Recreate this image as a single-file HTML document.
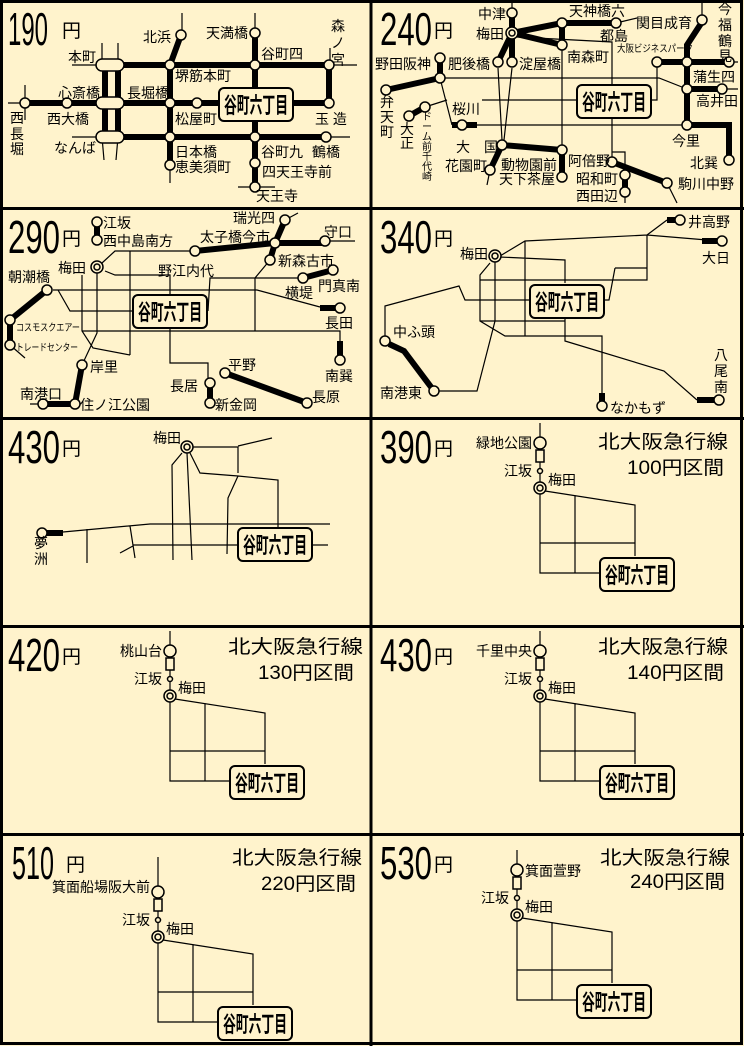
<!DOCTYPE html>
<html><head><meta charset="utf-8"><style>
html,body{margin:0;padding:0;background:#fff}
svg{display:block}
text{font-family:"Liberation Sans","Noto Sans CJK JP",sans-serif;fill:#000}
.n{font-size:46px;font-family:"Liberation Sans","DejaVu Sans",sans-serif}
.y{font-size:19px}
.l{font-size:14px}
.s{font-size:10px}
.t{stroke:#000;stroke-width:1.2;fill:none}
.k{stroke:#000;stroke-width:6;fill:none}
.c{fill:#FFF3CC;stroke:#000;stroke-width:1.5}
.b{fill:#FFF3CC;stroke:#000;stroke-width:2}
.bt{font-size:22px;font-weight:bold}
.h{font-size:19px}
</style></head><body>
<svg width="744" height="1046" viewBox="0 0 744 1046" xmlns="http://www.w3.org/2000/svg">
<defs>
<g id="box"><rect x="0" y="0" width="74" height="33" rx="5" class="b"/><text x="5" y="25" class="bt" textLength="64" lengthAdjust="spacingAndGlyphs">谷町六丁目</text></g>
<g id="um"><circle r="6" class="c"/><circle r="3" class="c"/></g>
</defs>
<rect x="0" y="0" width="744" height="1046" fill="#FFF3CC"/>

<!-- Panel 1: 190 -->
<g>
<text x="8" y="45" class="n" textLength="40" lengthAdjust="spacingAndGlyphs">190</text>
<text x="62" y="37" class="y">円</text>
<path class="t" d="M72 65H357 M8 103H25 M72 137H350 M102 43V65 M118 43V65 M102 137L104 160 M118 137L116 160 M182 13V35 M255 13V33 M25 85V120 M330 48V65 M170 165V183 M238 187H275 M330 137H350"/>
<path class="k" d="M100 65H330 M25 103H330 M100 137H326 M105 62V140 M118 62V140 M170 65V165 M170 65L181 35 M255 33V187 M329 65V103"/>
<rect x="96" y="59" width="28" height="12" rx="6" class="c"/>
<rect x="96" y="97" width="28" height="12" rx="6" class="c"/>
<rect x="96" y="131" width="28" height="12" rx="6" class="c"/>
<g class="c"><circle cx="181" cy="35" r="5"/><circle cx="255" cy="33" r="5"/><circle cx="170" cy="65" r="5"/><circle cx="255" cy="65" r="5"/><circle cx="329" cy="65" r="5"/><circle cx="25" cy="103" r="5"/><circle cx="67" cy="103" r="5"/><circle cx="170" cy="103" r="5"/><circle cx="197" cy="103" r="5"/><circle cx="329" cy="103" r="5"/><circle cx="170" cy="137" r="5"/><circle cx="255" cy="137" r="5"/><circle cx="326" cy="137" r="5"/><circle cx="170" cy="165" r="5"/><circle cx="255" cy="163" r="5"/><circle cx="255" cy="187" r="5"/></g>
<use href="#box" x="219" y="88"/>
<g class="l">
<text x="143" y="42">北浜</text><text x="206" y="38">天満橋</text><text x="261" y="59">谷町四</text>
<text x="331" y="31">森</text><text x="331" y="48">ノ</text><text x="331" y="65">宮</text>
<text x="68" y="62">本町</text><text x="175" y="81">堺筋本町</text><text x="58" y="98">心斎橋</text><text x="127" y="98">長堀橋</text>
<text x="47" y="124">西大橋</text><text x="175" y="124">松屋町</text><text x="315" y="124">玉 造</text>
<text x="10" y="123">西</text><text x="10" y="139">長</text><text x="10" y="154">堀</text>
<text x="54" y="153">なんば</text><text x="175" y="157">日本橋</text><text x="261" y="157">谷町九</text><text x="312" y="157">鶴橋</text>
<text x="175" y="172">恵美須町</text><text x="262" y="177">四天王寺前</text><text x="256" y="201">天王寺</text>
</g>
</g>

<!-- Panel 2: 240 -->
<g transform="translate(372,0)">
<text x="8" y="45" class="n" textLength="52" lengthAdjust="spacingAndGlyphs">240</text>
<text x="62" y="37" class="y">円</text>
<path class="t" d="M140 0V13 M330 0V20 M68 78H287L315 89 M285 62V100H278 M110 100H205 M68 78L80 125 M105 125H315 M53 107L75 100 M126 68L130 140 M140 68L132 140 M190 45V148 M145 37L240 42V160 M240 152H253V170 M244 23L265 18 M295 183L305 203 M253 192V203 M118 170L115 185 M357 62H366 M350 89H366"/>
<path class="k" d="M140 13V33 M140 33L190 23H244 M140 33L190 45 M190 23V45 M140 33L126 62 M140 33V62 M68 58V78L14 90 M37 116L53 107 M80 125H105 M330 22L315 45V125 M285 62H357 M315 89H350 M315 125H357V158 M130 145L190 150 M130 145L118 170 M190 150V177 M240 162L295 183 M253 175V192"/>
<g class="c"><circle cx="140" cy="13" r="5"/><circle cx="190" cy="23" r="5"/><circle cx="244" cy="23" r="5"/><circle cx="330" cy="20" r="5"/><circle cx="190" cy="45" r="5"/><circle cx="126" cy="62" r="5"/><circle cx="140" cy="62" r="5"/><circle cx="68" cy="58" r="5"/><circle cx="68" cy="78" r="5"/><circle cx="14" cy="90" r="5"/><circle cx="37" cy="116" r="5"/><circle cx="53" cy="107" r="5"/><circle cx="90" cy="125" r="5"/><circle cx="285" cy="62" r="5"/><circle cx="315" cy="62" r="5"/><circle cx="357" cy="62" r="5"/><circle cx="315" cy="89" r="5"/><circle cx="350" cy="89" r="5"/><circle cx="315" cy="125" r="5"/><circle cx="357" cy="160" r="5"/><circle cx="130" cy="145" r="5"/><circle cx="190" cy="150" r="5"/><circle cx="118" cy="170" r="5"/><circle cx="190" cy="177" r="5"/><circle cx="240" cy="162" r="5"/><circle cx="295" cy="183" r="5"/><circle cx="253" cy="175" r="5"/><circle cx="253" cy="192" r="5"/></g>
<use href="#um" x="140" y="33"/>
<use href="#box" x="205" y="85"/>
<g class="l">
<text x="106" y="19">中津</text><text x="104" y="39">梅田</text><text x="197" y="16">天神橋六</text><text x="264" y="28">関目成育</text><text x="228" y="41">都島</text>
<text x="3" y="69">野田阪神</text><text x="76" y="69">肥後橋</text><text x="147" y="69">淀屋橋</text><text x="195" y="62">南森町</text>
<text x="346" y="14">今</text><text x="346" y="30">福</text><text x="346" y="46">鶴</text><text x="346" y="61">見</text>
<text x="321" y="82">蒲生四</text><text x="324" y="106">高井田</text>
<text x="8" y="107">弁</text><text x="8" y="122">天</text><text x="8" y="137">町</text>
<text x="28" y="134">大</text><text x="28" y="148">正</text>
<text x="80" y="114">桜川</text><text x="84" y="152">大</text><text x="112" y="152">国</text>
<text x="73" y="171">花園町</text><text x="129" y="170">動物園前</text><text x="196" y="166">阿倍野</text><text x="127" y="184">天下茶屋</text>
<text x="204" y="184">昭和町</text><text x="204" y="201">西田辺</text><text x="300" y="146">今里</text><text x="318" y="168">北巽</text><text x="306" y="189">駒川中野</text>
</g>
<text x="245" y="52" class="s" textLength="76" lengthAdjust="spacingAndGlyphs">大阪ビジネスパーク</text>
<g class="s"><text x="50" y="120">ド</text><text x="50" y="130">ー</text><text x="50" y="140">ム</text><text x="50" y="150">前</text><text x="50" y="160">千</text><text x="50" y="170">代</text><text x="50" y="180">崎</text></g>
</g>

<!-- Panel 3: 290 -->
<g transform="translate(0,208)">
<text x="8" y="45" class="n" textLength="52" lengthAdjust="spacingAndGlyphs">290</text>
<text x="62" y="37" class="y">円</text>
<path class="t" d="M97 65V125L82 157 M82 67V123L93 140L130 147 M102 55L115 43H195 M130 43V147 M105 63L115 67H170V88 M53 82H257L320 99 M58 82L70 103H133 M82 123H340V133 M270 52L255 70V123 M208 103L210 70H303 M170 118V155H208V170 M325 33H355 M10 137L25 150 M43 196H30 M285 12L298 5"/>
<path class="k" d="M97 14V32 M195 43L275 35 M275 35H325 M285 12L275 35L270 52 M303 70L333 62 M320 100H340 M340 133V152 M225 165L307 195 M210 175V195 M47 82L10 112V137 M82 157L75 196H43"/>
<g class="c"><circle cx="97" cy="14" r="5"/><circle cx="97" cy="32" r="5"/><circle cx="285" cy="12" r="5"/><circle cx="275" cy="35" r="5"/><circle cx="325" cy="33" r="5"/><circle cx="195" cy="43" r="5"/><circle cx="270" cy="52" r="5"/><circle cx="303" cy="70" r="5"/><circle cx="333" cy="62" r="5"/><circle cx="340" cy="100" r="5"/><circle cx="340" cy="152" r="5"/><circle cx="225" cy="165" r="5"/><circle cx="307" cy="195" r="5"/><circle cx="210" cy="175" r="5"/><circle cx="210" cy="195" r="5"/><circle cx="47" cy="82" r="5"/><circle cx="10" cy="112" r="5"/><circle cx="10" cy="137" r="5"/><circle cx="82" cy="157" r="5"/><circle cx="75" cy="196" r="5"/><circle cx="43" cy="196" r="5"/></g>
<use href="#um" x="97" y="59"/>
<use href="#box" x="133" y="87"/>
<g class="l">
<text x="103" y="20">江坂</text><text x="103" y="38">西中島南方</text><text x="58" y="65">梅田</text><text x="8" y="74">朝潮橋</text><text x="158" y="68">野江内代</text>
<text x="233" y="15">瑞光四</text><text x="200" y="34">太子橋今市</text><text x="324" y="29">守口</text><text x="278" y="58">新森古市</text>
<text x="285" y="90">横堤</text><text x="318" y="83">門真南</text><text x="325" y="120">長田</text><text x="325" y="173">南巽</text>
<text x="90" y="164">岸里</text><text x="228" y="162">平野</text><text x="170" y="183">長居</text><text x="312" y="194">長原</text>
<text x="20" y="191">南港口</text><text x="80" y="202">住ノ江公園</text><text x="215" y="202">新金岡</text>
</g>
<text x="16" y="123" class="s" textLength="64" lengthAdjust="spacingAndGlyphs">コスモスクエアー</text>
<text x="16" y="143" class="s" textLength="62" lengthAdjust="spacingAndGlyphs">トレードセンター</text>
</g>

<!-- Panel 4: 340 -->
<g transform="translate(372,208)">
<text x="8" y="45" class="n" textLength="52" lengthAdjust="spacingAndGlyphs">340</text>
<text x="62" y="37" class="y">円</text>
<path class="t" d="M128 48L153 33L275 27L347 33 M275 27L295 12 M127 49L193 52V75 M153 33V128 M275 27V72H108 M243 60H275 M243 60L237 92H233 M118 55L108 67V113L133 128H230V185 M108 113H193 M123 52V113L105 183H62 M13 128V98L87 78L93 92H158 M193 108V133L292 163L325 192"/>
<path class="k" d="M295 12H308 M330 33H347 M230 185V198 M325 192H345 M17 136L32 143L62 183"/>
<g class="c"><circle cx="308" cy="12" r="5"/><circle cx="350" cy="33" r="5"/><circle cx="13" cy="133" r="5"/><circle cx="62" cy="183" r="5"/><circle cx="230" cy="198" r="5"/><circle cx="347" cy="192" r="5"/></g>
<use href="#um" x="123" y="48"/>
<use href="#box" x="158" y="77"/>
<g class="l">
<text x="88" y="51">梅田</text><text x="316" y="19">井高野</text><text x="330" y="55">大日</text><text x="21" y="129">中ふ頭</text><text x="8" y="190">南港東</text><text x="238" y="205">なかもず</text>
<text x="342" y="152">八</text><text x="342" y="168">尾</text><text x="342" y="184">南</text>
</g>
</g>

<!-- Panel 5: 430 -->
<g transform="translate(0,418)">
<text x="8" y="45" class="n" textLength="52" lengthAdjust="spacingAndGlyphs">430</text>
<text x="62" y="37" class="y">円</text>
<path class="t" d="M192 29H238V55 M238 28L272 20 M182 35L172 47L173 142 M187 35L192 142 M190 35L200 55L238 58L278 62V110 M238 58L228 80L227 136 M63 114L150 106H330 M87 111V145 M130 108L135 140 M120 135L133 128 M133 127H238 M312 127H328"/>
<path class="k" d="M47 115H63"/>
<circle cx="42" cy="115" r="5" class="c"/>
<use href="#um" x="187" y="29"/>
<use href="#box" x="238" y="110"/>
<g class="l"><text x="153" y="25">梅田</text><text x="34" y="130">夢</text><text x="34" y="146">洲</text></g>
</g>

<!-- Kita-osaka template panels -->
<g transform="translate(372,418)">
<text x="8" y="45" class="n" textLength="52" lengthAdjust="spacingAndGlyphs">390</text>
<text x="62" y="37" class="y">円</text>
<text x="226" y="30" class="h" textLength="130" lengthAdjust="spacingAndGlyphs">北大阪急行線</text>
<text x="255" y="56" class="h" textLength="97" lengthAdjust="spacingAndGlyphs">100円区間</text>
<g>
<path class="t" d="M168 5V19 M168 44V64 M168 76V155H230 M173 73L263 87V138 M203 77V155 M168 125H263"/>
<circle cx="168" cy="25" r="6" class="c"/><rect x="164" y="32" width="8" height="12" class="c"/><circle cx="168" cy="53" r="2.5" class="c"/>
<use href="#um" x="168" y="70"/><use href="#box" x="228" y="140"/>
<text x="104" y="30" class="l">緑地公園</text><text x="132" y="58" class="l">江坂</text><text x="176" y="67" class="l">梅田</text>
</g>
</g>

<g transform="translate(0,626)">
<text x="8" y="45" class="n" textLength="52" lengthAdjust="spacingAndGlyphs">420</text>
<text x="62" y="37" class="y">円</text>
<text x="228" y="27" class="h" textLength="135" lengthAdjust="spacingAndGlyphs">北大阪急行線</text>
<text x="258" y="53" class="h" textLength="96" lengthAdjust="spacingAndGlyphs">130円区間</text>
<g transform="translate(2,0)">
<path class="t" d="M168 5V19 M168 44V64 M168 76V155H230 M173 73L263 87V138 M203 77V155 M168 125H263"/>
<circle cx="168" cy="25" r="6" class="c"/><rect x="164" y="32" width="8" height="12" class="c"/><circle cx="168" cy="53" r="2.5" class="c"/>
<use href="#um" x="168" y="70"/><use href="#box" x="228" y="140"/>
<text x="118" y="30" class="l">桃山台</text><text x="132" y="58" class="l">江坂</text><text x="176" y="67" class="l">梅田</text>
</g>
</g>

<g transform="translate(372,626)">
<text x="8" y="45" class="n" textLength="52" lengthAdjust="spacingAndGlyphs">430</text>
<text x="62" y="37" class="y">円</text>
<text x="226" y="27" class="h" textLength="130" lengthAdjust="spacingAndGlyphs">北大阪急行線</text>
<text x="255" y="53" class="h" textLength="97" lengthAdjust="spacingAndGlyphs">140円区間</text>
<g>
<path class="t" d="M168 5V19 M168 44V64 M168 76V155H230 M173 73L263 87V138 M203 77V155 M168 125H263"/>
<circle cx="168" cy="25" r="6" class="c"/><rect x="164" y="32" width="8" height="12" class="c"/><circle cx="168" cy="53" r="2.5" class="c"/>
<use href="#um" x="168" y="70"/><use href="#box" x="228" y="140"/>
<text x="104" y="30" class="l">千里中央</text><text x="132" y="58" class="l">江坂</text><text x="176" y="67" class="l">梅田</text>
</g>
</g>

<g transform="translate(0,834)">
<text x="12" y="45" class="n" textLength="42" lengthAdjust="spacingAndGlyphs">510</text>
<text x="66" y="37" class="y">円</text>
<text x="232" y="30" class="h" textLength="130" lengthAdjust="spacingAndGlyphs">北大阪急行線</text>
<text x="261" y="56" class="h" textLength="95" lengthAdjust="spacingAndGlyphs">220円区間</text>
<g transform="translate(-10,33)">
<path class="t" d="M168 -10V19 M168 44V64 M168 76V155H230 M173 73L263 87V138 M203 77V155 M168 125H263"/>
<circle cx="168" cy="25" r="6" class="c"/><rect x="164" y="32" width="8" height="12" class="c"/><circle cx="168" cy="53" r="2.5" class="c"/>
<use href="#um" x="168" y="70"/><use href="#box" x="228" y="140"/>
<text x="62" y="25" class="l">箕面船場阪大前</text><text x="132" y="58" class="l">江坂</text><text x="176" y="67" class="l">梅田</text>
</g>
</g>

<g transform="translate(372,834)">
<text x="8" y="45" class="n" textLength="52" lengthAdjust="spacingAndGlyphs">530</text>
<text x="62" y="37" class="y">円</text>
<text x="228" y="30" class="h" textLength="130" lengthAdjust="spacingAndGlyphs">北大阪急行線</text>
<text x="258" y="54" class="h" textLength="95" lengthAdjust="spacingAndGlyphs">240円区間</text>
<g transform="translate(-23,11)">
<path class="t" d="M168 5V19 M168 44V64 M168 76V155H230 M173 73L263 87V138 M203 77V155 M168 125H263"/>
<circle cx="168" cy="25" r="6" class="c"/><rect x="164" y="32" width="8" height="12" class="c"/><circle cx="168" cy="53" r="2.5" class="c"/>
<use href="#um" x="168" y="70"/><use href="#box" x="228" y="140"/>
<text x="176" y="31" class="l">箕面萱野</text><text x="132" y="58" class="l">江坂</text><text x="176" y="67" class="l">梅田</text>
</g>
</g>

<!-- Grid -->
<g stroke="#000" stroke-width="3" fill="none">
<rect x="1.5" y="1.5" width="740" height="1042"/>
<path d="M371 0V1046 M0 208.5H744 M0 418.5H744 M0 626.5H744 M0 834.5H744"/>
</g>
</svg>
</body></html>
